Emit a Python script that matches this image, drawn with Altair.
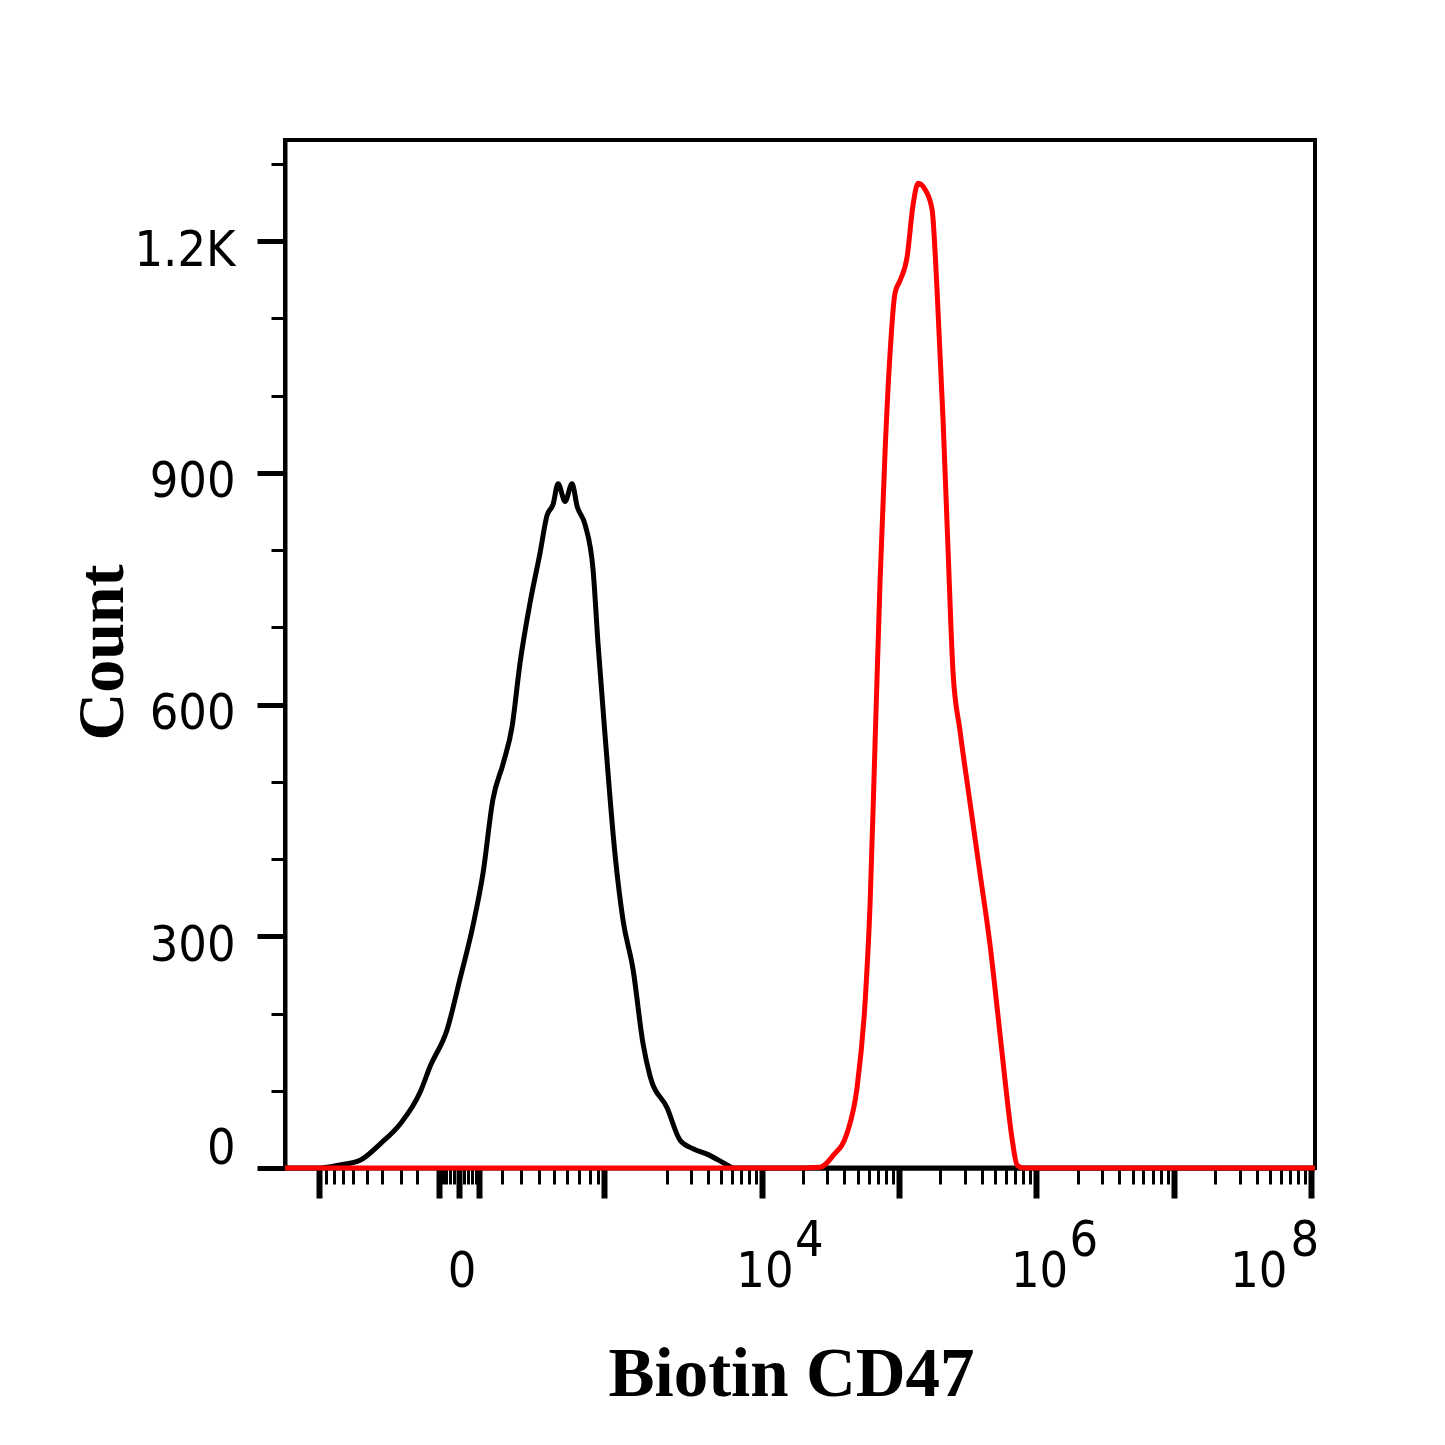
import altair as alt
import pandas as pd

# control histogram (black), intensity vs count
ctrl_x = [-1100, -583, -399, -268, -174, -106, -58, -39, -14, 1, 17, 31, 48, 69, 90, 112, 144, 182, 212, 241,
          268, 309, 355, 392, 457, 532, 583, 664, 796, 919, 1099, 1310, 1481, 1990, 2489, 3112, 3950, 5544, 6142, 1.062e8]
ctrl_y = [0, 0, 4, 10, 31, 57, 98, 132, 179, 245, 316, 381, 477, 524, 571, 654, 732, 797, 845, 859,
          886, 863, 886, 857, 833, 774, 679, 560, 406, 321, 257, 161, 119, 78, 36, 25, 18, 4, 0, 0]

# Biotin CD47 stained histogram (red)
cd47_x = [-1100, 18990, 26560, 33050, 41790, 49440, 56550, 61460, 66850, 72700, 79060, 85930, 93430, 101600,
          114300, 126400, 137500, 154600, 173900, 189100, 209000, 227200, 247200, 277800, 328400, 388500,
          459100, 525000, 590900, 664000, 722000, 798000, 1.062e8]
cd47_y = [0, 0, 1, 16, 45, 104, 214, 340, 549, 759, 927, 1054, 1133, 1149, 1179, 1247, 1275, 1267, 1241,
          1136, 969, 801, 641, 566, 473, 381, 289, 197, 113, 38, 4, 0, 0]

# axis ticks (biexponential style)
x_major = [-600, -25, 0, 25, 650, 1e4, 1e5, 1e6, 1e7, 1e8]
x_minor = [-520, -450, -380, -310, -230, -165, -105, -65, -20, -15, -10, -5,
           5, 10, 15, 20, 66, 115, 178, 246, 322, 407, 502, 583]
x_minor += [k * 10 ** e for e in range(3, 8) for k in range(2, 10)]
y_ticks = list(range(0, 1400, 100))

label_vals = [0, 1e4, 1e6, 1e8]
label_base = ["0", "10", "10", "10"]
label_exp = ["", "4", "6", "8"]

lines = pd.concat([
    pd.DataFrame({"intensity": ctrl_x, "count": ctrl_y, "sample": "control"}),
    pd.DataFrame({"intensity": cd47_x, "count": cd47_y, "sample": "CD47"}),
])
labels = pd.DataFrame({"intensity": label_vals, "base": label_base, "exp": label_exp})

lab_font = "Liberation Sans Narrow, DejaVu Sans Condensed, sans-serif"
major_test = "indexof(" + str([float(v) for v in x_major]) + ", datum.value) >= 0"

x_scale = alt.Scale(type="symlog", constant=63, domain=[-1100, 1.062e8], nice=False, zero=False)
x_axis = alt.Axis(
    values=x_major + x_minor, labels=False, grid=False,
    tickColor="black", domainColor="black", domainWidth=4,
    tickSize={"condition": {"test": major_test, "value": 30}, "value": 16},
    tickWidth={"condition": {"test": major_test, "value": 6}, "value": 3},
    title="Biotin CD47", titleFont="Liberation Serif", titleFontSize=69, titleFontWeight="bold",
    titleColor="black", titleBaseline="alphabetic", titleX=506, titleY=227,
)
x_enc = alt.X("intensity:Q", scale=x_scale, axis=x_axis)

y_axis = alt.Axis(
    values=y_ticks, grid=False, tickColor="black", domainColor="black", domainWidth=4,
    tickSize={"condition": {"test": "datum.value % 300 === 0", "value": 28}, "value": 14},
    tickWidth={"condition": {"test": "datum.value % 300 === 0", "value": 5}, "value": 3},
    labelExpr="datum.value == 1200 ? '1.2K' : (datum.value % 300 == 0 ? datum.label : '')",
    labelFont=lab_font, labelFontSize=50, labelColor="black", labelPadding=22,
    labelBaseline="middle",
    labelOffset={"condition": {"test": "datum.value === 0", "value": -20}, "value": 9},
    title="Count", titleFont="Liberation Serif", titleFontSize=66, titleFontWeight="bold",
    titleColor="black", titleBaseline="alphabetic", titleX=-163, titleY=512,
)

curves = alt.Chart(lines).mark_line(strokeWidth=5, interpolate="monotone").encode(
    x=x_enc,
    y=alt.Y("count:Q", scale=alt.Scale(domain=[0, 1331], nice=False, zero=False), axis=y_axis),
    color=alt.Color("sample:N", scale=alt.Scale(domain=["control", "CD47"], range=["#000000", "#ff0000"]),
                    legend=None),
    order=alt.Order("intensity:Q"),
)

base_mid = alt.Chart(labels).transform_filter("datum.intensity < 1e7").mark_text(
    font=lab_font, fontSize=50, align="center", baseline="alphabetic", dx=3, color="black"
).encode(x=x_enc, y=alt.value(1147), text="base:N")

base_end = alt.Chart(labels).transform_filter("datum.intensity > 1e7").mark_text(
    font=lab_font, fontSize=50, align="right", baseline="alphabetic", dx=-24, color="black"
).encode(x=x_enc, y=alt.value(1147), text="base:N")

exp_mid = alt.Chart(labels).transform_filter("datum.intensity > 0 && datum.intensity < 1e7").mark_text(
    font=lab_font, fontSize=50, align="left", baseline="alphabetic", dx=33, color="black"
).encode(x=x_enc, y=alt.value(1116), text="exp:N")

exp_end = alt.Chart(labels).transform_filter("datum.intensity > 1e7").mark_text(
    font=lab_font, fontSize=50, align="left", baseline="alphabetic", dx=-21, color="black"
).encode(x=x_enc, y=alt.value(1116), text="exp:N")

chart = alt.layer(curves, base_mid, base_end, exp_mid, exp_end).properties(
    width=1030, height=1028,
    autosize=alt.AutoSizeParams(type="none"),
    padding={"left": 277, "top": 132, "right": 50, "bottom": 270},
).configure_view(stroke="black", strokeWidth=4)

chart.save("out.html", embed_options={"renderer": "svg", "actions": False})
